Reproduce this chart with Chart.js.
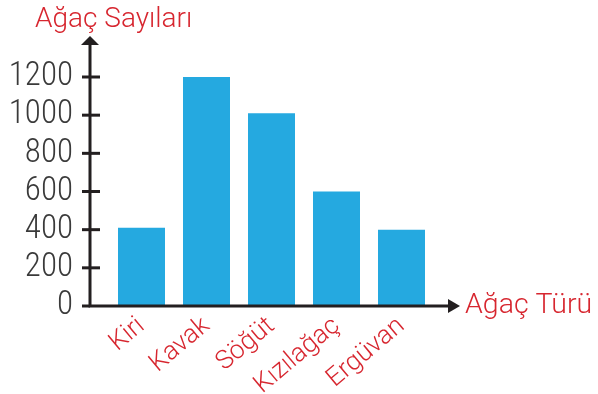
<!DOCTYPE html>
<html>
<head>
<meta charset="utf-8">
<script src="https://cdn.jsdelivr.net/npm/chart.js@4"></script>
<style>
  body { margin: 0; background: #fff; }
  #wrap { width: 598px; height: 394px; }
</style>
</head>
<body>
<div id="wrap"><canvas id="treeChart" width="598" height="394"></canvas></div>
<script>
// Tree counts per species
const treeTypes = ['Kiri', 'Kavak', 'Söğüt', 'Kızılağaç', 'Ergüvan'];
const treeCounts = [410, 1200, 1010, 600, 400];
const countTicks = [0, 200, 400, 600, 800, 1000, 1200];

const barColor = '#25a9e0';
const axisColor = '#231f20';
const labelRed = '#d7262f';
const numberFont = '"Roboto Condensed", "DejaVu Sans Condensed", sans-serif';
const textFont = 'Roboto, "Open Sans", sans-serif';

// Axis lines with arrows, tick crosses and the two axis titles
const axisArrows = {
    id: 'axisArrows',
    afterDatasetsDraw: function(chart) {
        const ctx = chart.ctx;
        const area = chart.chartArea;
        const yScale = chart.scales.y;
        const ax = area.left - 19;
        const ay = yScale.getPixelForValue(0);
        const topY = area.top - 33;
        const rightX = area.right + 16;

        ctx.save();
        ctx.strokeStyle = axisColor;
        ctx.fillStyle = axisColor;
        ctx.lineWidth = 3;

        ctx.beginPath();
        ctx.moveTo(ax, ay);
        ctx.lineTo(ax, topY);
        ctx.moveTo(ax - 1.5, ay);
        ctx.lineTo(rightX, ay);
        ctx.stroke();

        // tick crosses on the vertical axis
        countTicks.forEach(v => {
            const py = yScale.getPixelForValue(v);
            ctx.beginPath();
            ctx.moveTo(ax - 8, py);
            ctx.lineTo(ax + (v === 0 ? 0 : 10), py);
            ctx.stroke();
        });

        // arrow heads
        ctx.beginPath();
        ctx.moveTo(ax, topY - 8);
        ctx.lineTo(ax - 9, topY + 1);
        ctx.lineTo(ax + 9, topY + 1);
        ctx.closePath();
        ctx.fill();

        ctx.beginPath();
        ctx.moveTo(rightX + 10, ay);
        ctx.lineTo(rightX - 2, ay - 7);
        ctx.lineTo(rightX - 2, ay + 7);
        ctx.closePath();
        ctx.fill();

        // axis titles
        ctx.fillStyle = labelRed;
        ctx.font = '300 28px ' + textFont;
        ctx.textAlign = 'left';
        ctx.textBaseline = 'alphabetic';
        ctx.fillText('Ağaç Sayıları', 35, 27);
        ctx.font = '300 28.5px ' + textFont;
        ctx.fillText('Ağaç Türü', rightX + 15, ay + 7);
        ctx.restore();
    }
};

const ctx = document.getElementById('treeChart').getContext('2d');
const treeChart = new Chart(ctx, {
    type: 'bar',
    data: {
        labels: treeTypes,
        datasets: [{
            data: treeCounts,
            backgroundColor: barColor,
            borderWidth: 0,
            categoryPercentage: 1,
            barPercentage: 0.723
        }]
    },
    options: {
        responsive: false,
        animation: false,
        layout: { padding: { top: 77, right: 164, left: 0, bottom: 0 } },
        plugins: {
            legend: { display: false },
            tooltip: { enabled: false }
        },
        scales: {
            x: {
                grid: { display: false, drawTicks: false },
                border: { display: false },
                ticks: {
                    autoSkip: false,
                    minRotation: 40,
                    maxRotation: 40,
                    padding: 5,
                    color: labelRed,
                    font: { family: textFont, size: 26, weight: '300' }
                },
                afterFit: function(scale) { scale.height = 88; }
            },
            y: {
                min: 0,
                max: 1200,
                afterBuildTicks: function(scale) {
                    scale.ticks = countTicks.map(v => ({ value: v }));
                },
                grid: { display: false, drawTicks: false },
                border: { display: false },
                ticks: {
                    autoSkip: false,
                    padding: 36,
                    color: '#3a3a3a',
                    font: { family: numberFont, size: 33, weight: '300' },
                    callback: function(value) { return String(value); }
                },
                afterFit: function(scale) { scale.width = 109; }
            }
        }
    },
    plugins: [axisArrows]
});
</script>
</body>
</html>
